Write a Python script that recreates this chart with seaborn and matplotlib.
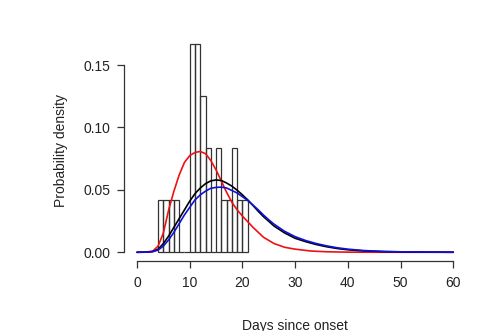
import matplotlib
matplotlib.use("Agg")
import matplotlib.pyplot as plt
import seaborn as sns
import pandas as pd

# ---- data ----
bin_left = [4, 5, 6, 7, 8, 9, 10, 11, 12, 13, 14, 15, 16, 17, 18, 19, 20]
bin_density = [0.0417, 0.0417, 0.0417, 0.0417, 0.0, 0.0, 0.1667, 0.1667, 0.125,
               0.0833, 0.0, 0.0833, 0.0417, 0.0417, 0.0833, 0.0417, 0.0417]

red_x = [0, 2, 3, 4, 5, 6, 7, 8, 9, 10, 11, 12, 13, 14, 15, 16, 17, 18, 19, 20,
         21, 22, 23, 24, 26, 28, 30, 33, 36, 40, 50, 60]
red_y = [0.0, 0.0003, 0.001, 0.005, 0.0155, 0.034, 0.049, 0.062, 0.072, 0.0775,
         0.080, 0.0808, 0.079, 0.0735, 0.066, 0.057, 0.048, 0.040, 0.034, 0.029,
         0.0245, 0.020, 0.016, 0.012, 0.007, 0.004, 0.0025, 0.001, 0.0004, 0.0001,
         0.0, 0.0]

black_x = [0, 2, 3, 4, 5, 6, 7, 8, 9, 10, 11, 12, 13, 14, 15, 16, 17, 18, 19, 20,
           21, 22, 23, 24, 25, 26, 28, 30, 32, 34, 36, 38, 40, 43, 47, 52, 60]
black_y = [0.0, 0.0001, 0.0006, 0.0025, 0.007, 0.013, 0.020, 0.027, 0.034, 0.041,
           0.047, 0.0515, 0.055, 0.0572, 0.058, 0.0575, 0.0555, 0.053, 0.0497,
           0.046, 0.042, 0.0375, 0.0328, 0.0285, 0.0248, 0.021, 0.0155, 0.0112,
           0.0085, 0.0062, 0.0044, 0.003, 0.002, 0.0011, 0.0005, 0.0002, 0.0]

blue_x = [0, 2, 3, 4, 5, 6, 7, 8, 9, 10, 11, 12, 13, 14, 15, 16, 17, 18, 19, 20,
          21, 22, 23, 24, 25, 26, 28, 30, 32, 34, 36, 38, 40, 43, 47, 51, 60]
blue_y = [0.0, 0.0001, 0.0005, 0.0018, 0.005, 0.010, 0.016, 0.023, 0.030, 0.036,
          0.042, 0.046, 0.049, 0.0513, 0.052, 0.0522, 0.0515, 0.0495, 0.0475,
          0.0445, 0.0415, 0.0378, 0.034, 0.0298, 0.026, 0.0225, 0.0168, 0.0125,
          0.0094, 0.007, 0.0051, 0.0036, 0.0025, 0.0014, 0.0006, 0.0003, 0.00005]

x_ticks = [0, 10, 20, 30, 40, 50, 60]
y_ticks = [0.00, 0.05, 0.10, 0.15]
y_tick_labels = ["0.00", "0.05", "0.10", "0.15"]

# ---- drawing ----
sns.set_style("white")
plt.rcParams["font.family"] = ["Liberation Sans", "DejaVu Sans"]

fig = plt.figure(figsize=(4.84, 3.31), dpi=100)
ax = fig.add_axes([0.257, 0.2127, 0.7056, 0.6785])

hist_df = pd.DataFrame({"day": [b + 0.5 for b in bin_left], "dens": bin_density})
edges = bin_left + [bin_left[-1] + 1]
sns.histplot(data=hist_df, x="day", weights="dens", bins=edges, stat="count",
             fill=False, element="bars", color="#333333", linewidth=0.9, ax=ax)

sns.lineplot(x=red_x, y=red_y, color="#ee1111", linewidth=1.2, sort=False,
             estimator=None, ax=ax)
sns.lineplot(x=black_x, y=black_y, color="black", linewidth=1.2, sort=False,
             estimator=None, ax=ax)
sns.lineplot(x=blue_x, y=blue_y, color="#1010dd", linewidth=1.2, sort=False,
             estimator=None, ax=ax)

ax.set_xlim(-2.4, 62.4)
ax.set_ylim(-0.00667, 0.1733)
ax.set_xticks(x_ticks)
ax.set_yticks(y_ticks)
ax.set_yticklabels(y_tick_labels)

for s in ["top", "right"]:
    ax.spines[s].set_visible(False)
ax.spines["left"].set_bounds(0, 0.15)
ax.spines["bottom"].set_bounds(0, 60)
for s in ["left", "bottom"]:
    ax.spines[s].set_color("#333333")
    ax.spines[s].set_linewidth(0.9)

ax.tick_params(axis="both", which="major", bottom=True, left=True,
               direction="out", length=5, width=0.9,
               color="#333333", labelsize=10, labelcolor="#222222")
ax.tick_params(axis="x", pad=6)
ax.tick_params(axis="y", pad=5)

ax.set_xlabel("Days since onset", fontsize=10, color="#222222")
ax.set_ylabel("Probability density", fontsize=10, color="#222222")
ax.xaxis.set_label_coords(0.5, -0.258)
ax.yaxis.set_label_coords(-0.165, 0.49)

fig.savefig("out.png", dpi=100)
